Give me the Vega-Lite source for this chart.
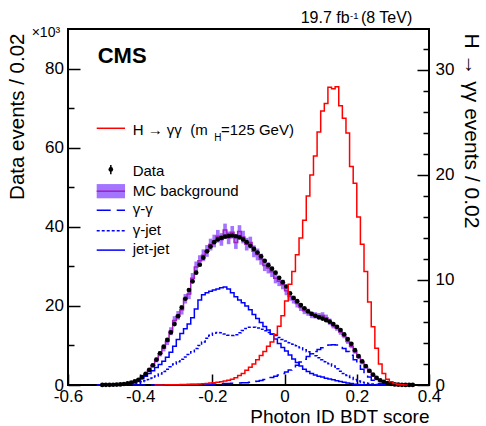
{
"$schema": "https://vega.github.io/schema/vega-lite/v6.json",
"width": 361, "height": 356,
"autosize": {"type": "none"},
"padding": {"left": 68, "top": 29, "right": 57, "bottom": 41},
"background": "white",
"config": {
  "font": "Liberation Sans",
  "view": {"stroke": "black", "strokeWidth": 2},
  "axis": {"domain": false, "grid": false, "tickColor": "black", "tickWidth": 1.5, "labelColor": "black", "labelFont": "Liberation Sans", "labelFontSize": 17, "titleFont": "Liberation Sans", "titleFontSize": 20.5, "titleFontWeight": "normal", "titleColor": "black", "labelOverlap": false, "labelFlush": false, "labelBound": false}
},
"datasets": {
"h": [
{"x":-0.52,"x2":-0.51,"mc":0,"lo":0,"hi":0,"gg":0,"gj":0,"jj":0},
{"x":-0.51,"x2":-0.50,"mc":0.03,"lo":0,"hi":0.06,"gg":0,"gj":0,"jj":0},
{"x":-0.50,"x2":-0.49,"mc":0.05,"lo":0,"hi":0.10,"gg":0,"gj":0,"jj":0},
{"x":-0.49,"x2":-0.48,"mc":0.06,"lo":0.01,"hi":0.11,"gg":0,"gj":0,"jj":0},
{"x":-0.48,"x2":-0.47,"mc":0.08,"lo":0.03,"hi":0.13,"gg":0,"gj":0,"jj":0.02},
{"x":-0.47,"x2":-0.46,"mc":0.1,"lo":0.05,"hi":0.15,"gg":0,"gj":0.01,"jj":0.03},
{"x":-0.46,"x2":-0.45,"mc":0.15,"lo":0.07,"hi":0.23,"gg":0,"gj":0.02,"jj":0.05},
{"x":-0.45,"x2":-0.44,"mc":0.25,"lo":0.15,"hi":0.35,"gg":0,"gj":0.05,"jj":0.1},
{"x":-0.44,"x2":-0.43,"mc":0.4,"lo":0.28,"hi":0.52,"gg":0,"gj":0.1,"jj":0.2},
{"x":-0.43,"x2":-0.42,"mc":0.6,"lo":0.45,"hi":0.75,"gg":0,"gj":0.2,"jj":0.4},
{"x":-0.42,"x2":-0.41,"mc":0.9,"lo":0.7,"hi":1.1,"gg":0,"gj":0.4,"jj":0.7},
{"x":-0.41,"x2":-0.40,"mc":1.3,"lo":1.05,"hi":1.55,"gg":0,"gj":0.6,"jj":1.1},
{"x":-0.40,"x2":-0.39,"mc":1.9,"lo":1.6,"hi":2.2,"gg":0,"gj":0.8,"jj":1.6},
{"x":-0.39,"x2":-0.38,"mc":2.7,"lo":2.35,"hi":3.05,"gg":0.01,"gj":1.1,"jj":2.2},
{"x":-0.38,"x2":-0.37,"mc":3.7,"lo":3.3,"hi":4.1,"gg":0.01,"gj":1.4,"jj":2.9},
{"x":-0.37,"x2":-0.36,"mc":4.9,"lo":4.4,"hi":5.4,"gg":0.01,"gj":1.8,"jj":3.6},
{"x":-0.36,"x2":-0.35,"mc":6.3,"lo":5.7,"hi":6.9,"gg":0.02,"gj":2.3,"jj":4.4},
{"x":-0.35,"x2":-0.34,"mc":7.9,"lo":7.2,"hi":8.6,"gg":0.02,"gj":2.8,"jj":5.2},
{"x":-0.34,"x2":-0.33,"mc":9.3,"lo":8.5,"hi":10.1,"gg":0.02,"gj":3.4,"jj":6.0},
{"x":-0.33,"x2":-0.32,"mc":11.0,"lo":10.1,"hi":11.9,"gg":0.03,"gj":4.0,"jj":7.0},
{"x":-0.32,"x2":-0.31,"mc":13.6,"lo":12.6,"hi":14.6,"gg":0.03,"gj":4.6,"jj":8.3},
{"x":-0.31,"x2":-0.30,"mc":16.3,"lo":15.2,"hi":17.4,"gg":0.04,"gj":5.3,"jj":9.8},
{"x":-0.30,"x2":-0.29,"mc":17.6,"lo":16.5,"hi":18.7,"gg":0.05,"gj":5.9,"jj":11.5},
{"x":-0.29,"x2":-0.28,"mc":19.0,"lo":17.8,"hi":20.2,"gg":0.06,"gj":6.5,"jj":13.0},
{"x":-0.28,"x2":-0.27,"mc":21.8,"lo":20.6,"hi":23.0,"gg":0.08,"gj":7.1,"jj":14.2},
{"x":-0.27,"x2":-0.26,"mc":23.0,"lo":21.7,"hi":24.3,"gg":0.09,"gj":7.7,"jj":15.4},
{"x":-0.26,"x2":-0.25,"mc":27.0,"lo":25.7,"hi":28.3,"gg":0.1,"gj":8.4,"jj":17.0},
{"x":-0.25,"x2":-0.24,"mc":29.8,"lo":28.4,"hi":31.2,"gg":0.12,"gj":9.2,"jj":19.2},
{"x":-0.24,"x2":-0.23,"mc":31.4,"lo":30.0,"hi":32.8,"gg":0.15,"gj":10.0,"jj":21.5},
{"x":-0.23,"x2":-0.22,"mc":32.8,"lo":31.3,"hi":34.3,"gg":0.17,"gj":10.9,"jj":22.8},
{"x":-0.22,"x2":-0.21,"mc":33.9,"lo":32.4,"hi":35.4,"gg":0.2,"gj":11.8,"jj":23.3},
{"x":-0.21,"x2":-0.20,"mc":35.5,"lo":34.0,"hi":37.0,"gg":0.22,"gj":12.6,"jj":23.7},
{"x":-0.20,"x2":-0.19,"mc":36.4,"lo":34.8,"hi":38.0,"gg":0.25,"gj":13.1,"jj":24.0},
{"x":-0.19,"x2":-0.18,"mc":37.6,"lo":36.0,"hi":39.2,"gg":0.28,"gj":13.3,"jj":24.3},
{"x":-0.18,"x2":-0.17,"mc":36.8,"lo":35.2,"hi":38.4,"gg":0.3,"gj":13.2,"jj":24.6},
{"x":-0.17,"x2":-0.16,"mc":39.2,"lo":37.6,"hi":40.8,"gg":0.35,"gj":12.9,"jj":24.8},
{"x":-0.16,"x2":-0.15,"mc":37.2,"lo":35.6,"hi":38.8,"gg":0.4,"gj":12.6,"jj":24.3},
{"x":-0.15,"x2":-0.14,"mc":38.6,"lo":37.0,"hi":40.2,"gg":0.42,"gj":12.5,"jj":23.3},
{"x":-0.14,"x2":-0.13,"mc":36.0,"lo":34.4,"hi":37.6,"gg":0.45,"gj":12.7,"jj":22.3},
{"x":-0.13,"x2":-0.12,"mc":38.8,"lo":37.2,"hi":40.4,"gg":0.5,"gj":13.2,"jj":21.5},
{"x":-0.12,"x2":-0.11,"mc":37.4,"lo":35.8,"hi":39.0,"gg":0.55,"gj":13.8,"jj":20.8},
{"x":-0.11,"x2":-0.10,"mc":35.6,"lo":34.0,"hi":37.2,"gg":0.6,"gj":14.3,"jj":20.0},
{"x":-0.10,"x2":-0.09,"mc":36.0,"lo":34.5,"hi":37.5,"gg":0.7,"gj":14.6,"jj":19.0},
{"x":-0.09,"x2":-0.08,"mc":33.8,"lo":32.3,"hi":35.3,"gg":0.8,"gj":14.6,"jj":17.8},
{"x":-0.08,"x2":-0.07,"mc":33.0,"lo":31.5,"hi":34.5,"gg":0.95,"gj":14.4,"jj":16.8},
{"x":-0.07,"x2":-0.06,"mc":31.8,"lo":30.4,"hi":33.2,"gg":1.15,"gj":14.1,"jj":15.8},
{"x":-0.06,"x2":-0.05,"mc":30.2,"lo":28.8,"hi":31.6,"gg":1.4,"gj":13.7,"jj":14.8},
{"x":-0.05,"x2":-0.04,"mc":29.6,"lo":28.2,"hi":31.0,"gg":1.65,"gj":13.3,"jj":13.9},
{"x":-0.04,"x2":-0.03,"mc":28.6,"lo":27.3,"hi":29.9,"gg":1.9,"gj":12.9,"jj":12.8},
{"x":-0.03,"x2":-0.02,"mc":27.0,"lo":25.7,"hi":28.3,"gg":2.2,"gj":12.5,"jj":11.6},
{"x":-0.02,"x2":-0.01,"mc":26.2,"lo":25.0,"hi":27.4,"gg":2.5,"gj":12.0,"jj":10.5},
{"x":-0.01,"x2":0.00,"mc":25.4,"lo":24.2,"hi":26.6,"gg":2.9,"gj":11.5,"jj":9.5},
{"x":0.00,"x2":0.01,"mc":23.8,"lo":22.7,"hi":24.9,"gg":3.3,"gj":11.1,"jj":8.6},
{"x":0.01,"x2":0.02,"mc":22.4,"lo":21.3,"hi":23.5,"gg":3.8,"gj":10.7,"jj":7.6},
{"x":0.02,"x2":0.03,"mc":21.6,"lo":20.6,"hi":22.6,"gg":4.4,"gj":10.3,"jj":6.6},
{"x":0.03,"x2":0.04,"mc":20.6,"lo":19.6,"hi":21.6,"gg":5.0,"gj":9.9,"jj":5.7},
{"x":0.04,"x2":0.05,"mc":19.6,"lo":18.7,"hi":20.5,"gg":5.8,"gj":9.4,"jj":4.8},
{"x":0.05,"x2":0.06,"mc":18.8,"lo":17.9,"hi":19.7,"gg":6.5,"gj":8.9,"jj":4.0},
{"x":0.06,"x2":0.07,"mc":18.4,"lo":17.5,"hi":19.3,"gg":7.2,"gj":8.4,"jj":3.4},
{"x":0.07,"x2":0.08,"mc":17.7,"lo":16.9,"hi":18.5,"gg":7.9,"gj":7.9,"jj":2.9},
{"x":0.08,"x2":0.09,"mc":17.6,"lo":16.8,"hi":18.4,"gg":8.5,"gj":7.4,"jj":2.5},
{"x":0.09,"x2":0.10,"mc":17.4,"lo":16.6,"hi":18.2,"gg":9.0,"gj":6.9,"jj":2.2},
{"x":0.10,"x2":0.11,"mc":17.6,"lo":16.8,"hi":18.4,"gg":9.4,"gj":6.4,"jj":2.0},
{"x":0.11,"x2":0.12,"mc":17.0,"lo":16.2,"hi":17.8,"gg":9.8,"gj":5.9,"jj":1.7},
{"x":0.12,"x2":0.13,"mc":16.0,"lo":15.2,"hi":16.8,"gg":10.1,"gj":5.4,"jj":1.5},
{"x":0.13,"x2":0.14,"mc":15.0,"lo":14.3,"hi":15.7,"gg":10.2,"gj":4.8,"jj":1.3},
{"x":0.14,"x2":0.15,"mc":14.4,"lo":13.7,"hi":15.1,"gg":10.1,"gj":4.1,"jj":1.1},
{"x":0.15,"x2":0.16,"mc":13.4,"lo":12.7,"hi":14.1,"gg":9.8,"gj":3.5,"jj":0.9},
{"x":0.16,"x2":0.17,"mc":12.4,"lo":11.8,"hi":13.0,"gg":9.2,"gj":2.9,"jj":0.7},
{"x":0.17,"x2":0.18,"mc":11.0,"lo":10.4,"hi":11.6,"gg":8.5,"gj":2.4,"jj":0.5},
{"x":0.18,"x2":0.19,"mc":9.8,"lo":9.3,"hi":10.3,"gg":7.5,"gj":1.9,"jj":0.35},
{"x":0.19,"x2":0.20,"mc":8.4,"lo":7.9,"hi":8.9,"gg":6.4,"gj":1.4,"jj":0.2},
{"x":0.20,"x2":0.21,"mc":7.0,"lo":6.6,"hi":7.4,"gg":5.2,"gj":1.0,"jj":0.1},
{"x":0.21,"x2":0.22,"mc":5.6,"lo":5.2,"hi":6.0,"gg":4.0,"gj":0.7,"jj":0.05},
{"x":0.22,"x2":0.23,"mc":4.4,"lo":4.1,"hi":4.7,"gg":2.9,"gj":0.5,"jj":0.02},
{"x":0.23,"x2":0.24,"mc":3.3,"lo":3.0,"hi":3.6,"gg":2.0,"gj":0.35,"jj":0},
{"x":0.24,"x2":0.25,"mc":2.4,"lo":2.2,"hi":2.6,"gg":1.2,"gj":0.25,"jj":0},
{"x":0.25,"x2":0.26,"mc":1.6,"lo":1.4,"hi":1.8,"gg":0.7,"gj":0.15,"jj":0},
{"x":0.26,"x2":0.27,"mc":1.0,"lo":0.85,"hi":1.15,"gg":0.4,"gj":0.1,"jj":0},
{"x":0.27,"x2":0.28,"mc":0.7,"lo":0.6,"hi":0.8,"gg":0.2,"gj":0.05,"jj":0},
{"x":0.28,"x2":0.29,"mc":0.4,"lo":0.3,"hi":0.5,"gg":0.1,"gj":0.02,"jj":0},
{"x":0.29,"x2":0.30,"mc":0.25,"lo":0.2,"hi":0.3,"gg":0.05,"gj":0,"jj":0},
{"x":0.30,"x2":0.31,"mc":0.12,"lo":0.07,"hi":0.17,"gg":0.02,"gj":0,"jj":0},
{"x":0.31,"x2":0.32,"mc":0.06,"lo":0.03,"hi":0.09,"gg":0,"gj":0,"jj":0},
{"x":0.32,"x2":0.33,"mc":0.03,"lo":0.01,"hi":0.05,"gg":0,"gj":0,"jj":0},
{"x":0.33,"x2":0.34,"mc":0.02,"lo":0.01,"hi":0.03,"gg":0,"gj":0,"jj":0},
{"x":0.34,"x2":0.35,"mc":0.01,"lo":0,"hi":0.02,"gg":0,"gj":0,"jj":0},
{"x":0.35,"x2":0.36,"mc":0,"lo":0,"hi":0,"gg":0,"gj":0,"jj":0}
],
"dots": [
{"x":-0.505,"v":0.03},{"x":-0.495,"v":0.05},{"x":-0.485,"v":0.05},{"x":-0.475,"v":0.07},{"x":-0.465,"v":0.1},
{"x":-0.455,"v":0.15},{"x":-0.445,"v":0.25},{"x":-0.435,"v":0.4},{"x":-0.425,"v":0.6},{"x":-0.415,"v":0.9},
{"x":-0.405,"v":1.3},{"x":-0.395,"v":2.0},{"x":-0.385,"v":2.8},{"x":-0.375,"v":3.8},{"x":-0.365,"v":5.0},
{"x":-0.355,"v":6.4},{"x":-0.345,"v":8.0},{"x":-0.335,"v":9.7},{"x":-0.325,"v":11.4},{"x":-0.315,"v":13.3},
{"x":-0.305,"v":15.4},{"x":-0.295,"v":17.4},{"x":-0.285,"v":19.6},{"x":-0.275,"v":21.8},{"x":-0.265,"v":24.0},
{"x":-0.255,"v":26.2},{"x":-0.245,"v":28.4},{"x":-0.235,"v":30.4},{"x":-0.225,"v":32.2},{"x":-0.215,"v":33.8},
{"x":-0.205,"v":35.0},{"x":-0.195,"v":36.1},{"x":-0.185,"v":36.8},{"x":-0.175,"v":37.2},{"x":-0.165,"v":37.5},
{"x":-0.155,"v":37.7},{"x":-0.145,"v":37.8},{"x":-0.135,"v":37.6},{"x":-0.125,"v":37.3},{"x":-0.115,"v":36.8},
{"x":-0.105,"v":36.1},{"x":-0.095,"v":35.2},{"x":-0.085,"v":34.4},{"x":-0.075,"v":33.5},{"x":-0.065,"v":32.5},
{"x":-0.055,"v":31.4},{"x":-0.045,"v":30.3},{"x":-0.035,"v":29.4},{"x":-0.025,"v":28.4},{"x":-0.015,"v":27.1},
{"x":-0.005,"v":26.0},{"x":0.005,"v":24.9},{"x":0.015,"v":23.2},{"x":0.025,"v":22.0},{"x":0.035,"v":21.2},
{"x":0.045,"v":20.2},{"x":0.055,"v":19.4},{"x":0.065,"v":18.6},{"x":0.075,"v":18.0},{"x":0.085,"v":17.5},
{"x":0.095,"v":17.1},{"x":0.105,"v":16.8},{"x":0.115,"v":16.4},{"x":0.125,"v":16.0},{"x":0.135,"v":15.4},
{"x":0.145,"v":14.7},{"x":0.155,"v":13.9},{"x":0.165,"v":12.8},{"x":0.175,"v":11.6},{"x":0.185,"v":10.4},
{"x":0.195,"v":8.8},{"x":0.205,"v":7.3},{"x":0.215,"v":6.0},{"x":0.225,"v":4.8},{"x":0.235,"v":3.6},
{"x":0.245,"v":2.6},{"x":0.255,"v":1.8},{"x":0.265,"v":1.2},{"x":0.275,"v":0.8},{"x":0.285,"v":0.5},
{"x":0.295,"v":0.3},{"x":0.305,"v":0.15},{"x":0.315,"v":0.08},{"x":0.325,"v":0.05},{"x":0.335,"v":0.03},
{"x":0.345,"v":0.02},{"x":0.355,"v":0.01}
],
"sig": [
{"x":-0.36,"s":0},{"x":-0.35,"s":0.01},{"x":-0.34,"s":0.01},{"x":-0.33,"s":0.02},{"x":-0.32,"s":0.02},
{"x":-0.31,"s":0.03},{"x":-0.30,"s":0.03},{"x":-0.29,"s":0.04},{"x":-0.28,"s":0.05},{"x":-0.27,"s":0.06},
{"x":-0.26,"s":0.07},{"x":-0.25,"s":0.08},{"x":-0.24,"s":0.1},{"x":-0.23,"s":0.12},{"x":-0.22,"s":0.15},
{"x":-0.21,"s":0.18},{"x":-0.20,"s":0.22},{"x":-0.19,"s":0.27},{"x":-0.18,"s":0.32},{"x":-0.17,"s":0.38},
{"x":-0.16,"s":0.45},{"x":-0.15,"s":0.55},{"x":-0.14,"s":0.7},{"x":-0.13,"s":0.9},{"x":-0.12,"s":1.1},
{"x":-0.11,"s":1.4},{"x":-0.10,"s":1.7},{"x":-0.09,"s":2.0},{"x":-0.08,"s":2.4},{"x":-0.07,"s":2.8},
{"x":-0.06,"s":3.2},{"x":-0.05,"s":3.7},{"x":-0.04,"s":4.1},{"x":-0.03,"s":4.8},{"x":-0.02,"s":5.6},
{"x":-0.01,"s":6.6},{"x":0.00,"s":8.0},{"x":0.01,"s":9.6},{"x":0.02,"s":10.8},{"x":0.03,"s":12.4},
{"x":0.04,"s":14.0},{"x":0.05,"s":15.7},{"x":0.06,"s":18.0},{"x":0.07,"s":20.0},{"x":0.08,"s":21.8},
{"x":0.09,"s":24.1},{"x":0.10,"s":26.1},{"x":0.11,"s":26.8},{"x":0.12,"s":28.35},{"x":0.13,"s":28.2},
{"x":0.14,"s":28.4},{"x":0.15,"s":26.6},{"x":0.16,"s":25.4},{"x":0.17,"s":24.0},{"x":0.18,"s":20.8},
{"x":0.19,"s":19.2},{"x":0.20,"s":16.0},{"x":0.21,"s":13.4},{"x":0.22,"s":10.8},{"x":0.23,"s":7.9},
{"x":0.24,"s":5.55},{"x":0.25,"s":3.5},{"x":0.26,"s":2.0},{"x":0.27,"s":1.1},{"x":0.28,"s":0.55},
{"x":0.29,"s":0.3},{"x":0.30,"s":0.15},{"x":0.31,"s":0.07},{"x":0.32,"s":0.03},{"x":0.33,"s":0.01},
{"x":0.34,"s":0}
],
"legtext": [
{"x":-0.4208,"y":63.2,"t":"H → γγ \u00a0(m"},
{"x":-0.1762,"y":63.2,"t":"=125 GeV)"},
{"x":-0.4208,"y":52.9,"t":"Data"},
{"x":-0.4208,"y":47.8,"t":"MC background"},
{"x":-0.4208,"y":43.3,"t":"γ-γ"},
{"x":-0.4208,"y":37.9,"t":"γ-jet"},
{"x":-0.4208,"y":33.1,"t":"jet-jet"}
]
},
"layer": [
{
"layer": [
{
"data": {"name": "h"},
"mark": {"type": "rect", "color": "#9966ff", "opacity": 0.9},
"encoding": {
  "x": {"field": "x", "type": "quantitative", "scale": {"domain": [-0.6, 0.4], "nice": false, "zero": false},
    "axis": {"values": [-0.6,-0.55,-0.5,-0.45,-0.4,-0.35,-0.3,-0.25,-0.2,-0.15,-0.1,-0.05,0,0.05,0.1,0.15,0.2,0.25,0.3,0.35,0.4],
      "tickSize": {"condition": {"test": "abs(datum.value*5 - round(datum.value*5)) < 0.001", "value": -11}, "value": -5.5},
      "labelExpr": "abs(datum.value*5 - round(datum.value*5)) < 0.001 ? '' + datum.value : ''",
      "labelPadding": 14,
      "title": "Photon ID BDT score", "titleFontSize": 19, "titleAnchor": "end", "titleAlign": "right", "titleX": 361, "titleY": 37, "titleBaseline": "alphabetic"}},
  "x2": {"field": "x2"},
  "y": {"field": "lo", "type": "quantitative", "scale": {"domain": [0, 90], "nice": false},
    "axis": {"values": [0,5,10,15,20,25,30,35,40,45,50,55,60,65,70,75,80,85],
      "tickSize": {"condition": {"test": "datum.value % 20 == 0", "value": -12}, "value": -6},
      "labelExpr": "datum.value % 20 == 0 ? datum.label : ''",
      "labelPadding": 16.5,
      "title": "Data events / 0.02", "titleAngle": 270, "titleAlign": "right", "titleBaseline": "middle", "titleX": -51, "titleY": 4}},
  "y2": {"field": "hi"}
}
},
{
"data": {"name": "h"},
"mark": {"type": "line", "interpolate": "step-after", "color": "#a020c0", "strokeWidth": 1.5},
"encoding": {"x": {"field": "x", "type": "quantitative"}, "y": {"field": "mc", "type": "quantitative"}}
},
{
"data": {"name": "h"},
"mark": {"type": "line", "interpolate": "step-after", "color": "#0000ff", "strokeWidth": 1.5, "strokeDash": [12, 6]},
"encoding": {"x": {"field": "x", "type": "quantitative"}, "y": {"field": "gg", "type": "quantitative"}}
},
{
"data": {"name": "h"},
"mark": {"type": "line", "interpolate": "step-after", "color": "#0000ff", "strokeWidth": 1.5, "strokeDash": [3, 2]},
"encoding": {"x": {"field": "x", "type": "quantitative"}, "y": {"field": "gj", "type": "quantitative"}}
},
{
"data": {"name": "h"},
"mark": {"type": "line", "interpolate": "step-after", "color": "#0000ff", "strokeWidth": 1.5},
"encoding": {"x": {"field": "x", "type": "quantitative"}, "y": {"field": "jj", "type": "quantitative"}}
},
{
"data": {"name": "dots"},
"mark": {"type": "point", "filled": true, "color": "black", "size": 22, "opacity": 1},
"encoding": {"x": {"field": "x", "type": "quantitative"}, "y": {"field": "v", "type": "quantitative"}}
},
{
"data": {"values": [{"x": -0.5205, "x2": -0.4421, "y": 64.9}]},
"mark": {"type": "rule", "color": "#ff0000", "strokeWidth": 1.5},
"encoding": {"x": {"field": "x", "type": "quantitative"}, "x2": {"field": "x2"}, "y": {"field": "y", "type": "quantitative"}}
},
{
"data": {"values": [{"x": -0.4814, "y": 53.3, "y2": 55.6}]},
"mark": {"type": "rule", "color": "black", "strokeWidth": 1.5},
"encoding": {"x": {"field": "x", "type": "quantitative"}, "y": {"field": "y", "type": "quantitative"}, "y2": {"field": "y2"}}
},
{
"data": {"values": [{"x": -0.4814, "y": 54.5}]},
"mark": {"type": "point", "filled": true, "color": "black", "size": 22, "opacity": 1},
"encoding": {"x": {"field": "x", "type": "quantitative"}, "y": {"field": "y", "type": "quantitative"}}
},
{
"data": {"values": [{"x": -0.5205, "x2": -0.4421, "y": 47.2, "y2": 50.8}]},
"mark": {"type": "rect", "color": "#9966ff", "opacity": 0.9},
"encoding": {"x": {"field": "x", "type": "quantitative"}, "x2": {"field": "x2"}, "y": {"field": "y", "type": "quantitative"}, "y2": {"field": "y2"}}
},
{
"data": {"values": [{"x": -0.5205, "x2": -0.4421, "y": 49.0}]},
"mark": {"type": "rule", "color": "#a020c0", "strokeWidth": 1.5},
"encoding": {"x": {"field": "x", "type": "quantitative"}, "x2": {"field": "x2"}, "y": {"field": "y", "type": "quantitative"}}
},
{
"data": {"values": [{"x": -0.5205, "x2": -0.4421, "y": 44.2}]},
"mark": {"type": "rule", "color": "#0000ff", "strokeWidth": 1.5, "strokeDash": [14, 6]},
"encoding": {"x": {"field": "x", "type": "quantitative"}, "x2": {"field": "x2"}, "y": {"field": "y", "type": "quantitative"}}
},
{
"data": {"values": [{"x": -0.5205, "x2": -0.4421, "y": 39.0}]},
"mark": {"type": "rule", "color": "#0000ff", "strokeWidth": 1.5, "strokeDash": [3, 2]},
"encoding": {"x": {"field": "x", "type": "quantitative"}, "x2": {"field": "x2"}, "y": {"field": "y", "type": "quantitative"}}
},
{
"data": {"values": [{"x": -0.5205, "x2": -0.4421, "y": 34.1}]},
"mark": {"type": "rule", "color": "#0000ff", "strokeWidth": 1.5},
"encoding": {"x": {"field": "x", "type": "quantitative"}, "x2": {"field": "x2"}, "y": {"field": "y", "type": "quantitative"}}
},
{
"data": {"name": "legtext"},
"mark": {"type": "text", "align": "left", "baseline": "alphabetic", "fontSize": 15, "color": "black"},
"encoding": {"x": {"field": "x", "type": "quantitative"}, "y": {"field": "y", "type": "quantitative"}, "text": {"field": "t"}}
},
{
"data": {"values": [{"x": -0.1947, "y": 61.8, "t": "H"}]},
"mark": {"type": "text", "align": "left", "baseline": "alphabetic", "fontSize": 10, "color": "black"},
"encoding": {"x": {"field": "x", "type": "quantitative"}, "y": {"field": "y", "type": "quantitative"}, "text": {"field": "t"}}
},
{
"data": {"values": [{"x": -0.5177, "y": 81.3, "t": "CMS"}]},
"mark": {"type": "text", "align": "left", "baseline": "alphabetic", "fontSize": 22, "fontWeight": "bold", "color": "black"},
"encoding": {"x": {"field": "x", "type": "quantitative"}, "y": {"field": "y", "type": "quantitative"}, "text": {"field": "t"}}
},
{
"data": {"values": [{"x": -0.7006, "y": 88.05, "t": "×10³"}]},
"mark": {"type": "text", "align": "left", "baseline": "alphabetic", "fontSize": 14, "color": "black"},
"encoding": {"x": {"field": "x", "type": "quantitative"}, "y": {"field": "y", "type": "quantitative"}, "text": {"field": "t"}}
},
{
"data": {"values": [{"x": 0.0446, "y": 91.43, "t": "19.7 fb"}, {"x": 0.2116, "y": 91.43, "t": "(8 TeV)"}]},
"mark": {"type": "text", "align": "left", "baseline": "alphabetic", "fontSize": 16, "color": "black"},
"encoding": {"x": {"field": "x", "type": "quantitative"}, "y": {"field": "y", "type": "quantitative"}, "text": {"field": "t"}}
},
{
"data": {"values": [{"x": 0.1812, "y": 92.64, "t": "-1"}]},
"mark": {"type": "text", "align": "left", "baseline": "alphabetic", "fontSize": 9.5, "color": "black"},
"encoding": {"x": {"field": "x", "type": "quantitative"}, "y": {"field": "y", "type": "quantitative"}, "text": {"field": "t"}}
}
]
},
{
"data": {"name": "sig"},
"mark": {"type": "line", "interpolate": "step-after", "color": "#ff0000", "strokeWidth": 1.5},
"encoding": {
  "x": {"field": "x", "type": "quantitative", "scale": {"domain": [-0.6, 0.4], "nice": false, "zero": false}},
  "y": {"field": "s", "type": "quantitative", "scale": {"domain": [0, 33.9], "nice": false},
    "axis": {"orient": "right", "values": [0,2,4,6,8,10,12,14,16,18,20,22,24,26,28,30,32],
      "tickSize": {"condition": {"test": "datum.value % 10 == 0", "value": -12}, "value": -6},
      "labelExpr": "datum.value % 10 == 0 ? datum.label : ''",
      "labelPadding": 18,
      "title": "H → γγ events / 0.02", "titleFontSize": 21, "titleAngle": 90, "titleAlign": "left", "titleBaseline": "middle", "titleX": 41, "titleY": 4}}
}
}
],
"resolve": {"scale": {"y": "independent"}}
}
